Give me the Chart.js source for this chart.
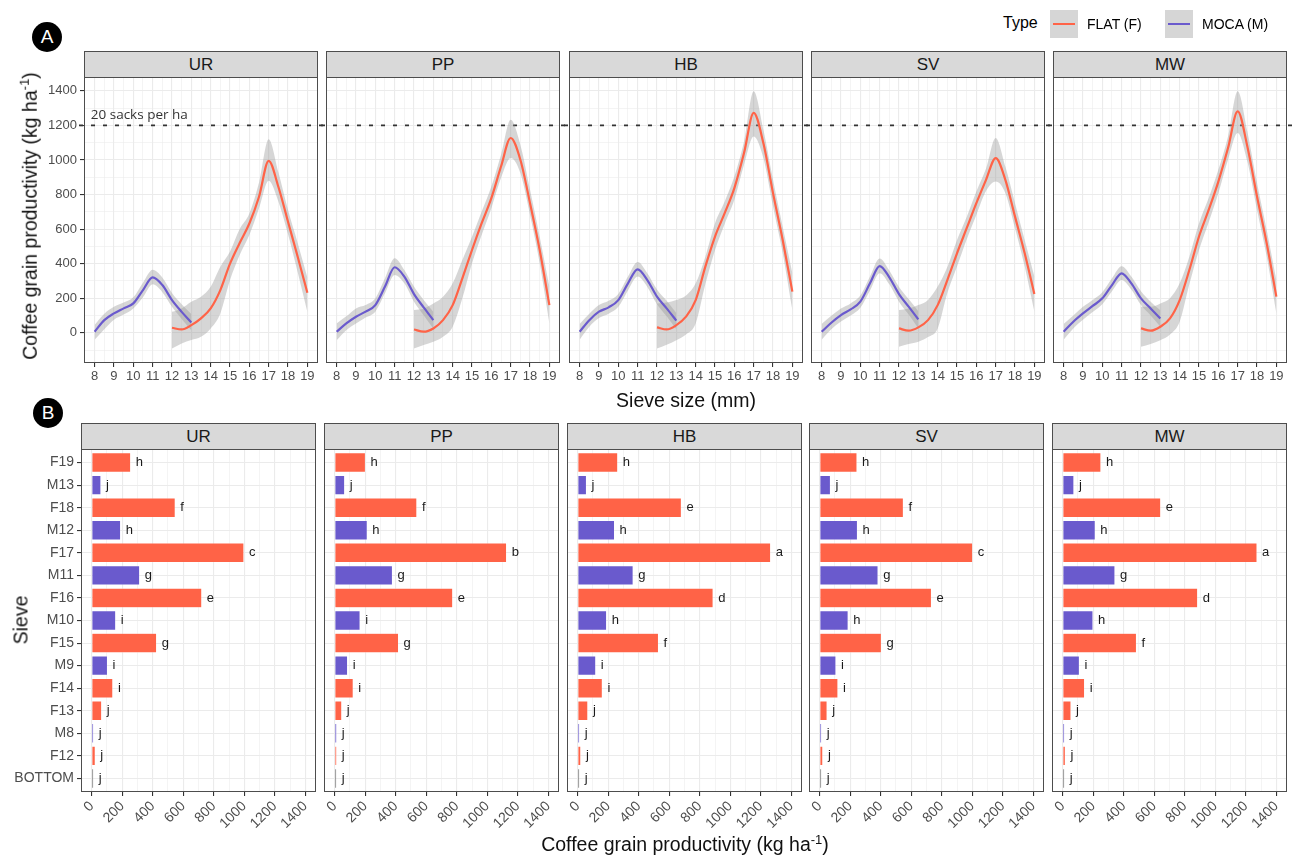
<!DOCTYPE html>
<html>
<head>
<meta charset="utf-8">
<script src="https://cdn.jsdelivr.net/npm/chart.js@4.4.0/dist/chart.umd.min.js"></script>
<style>
  html, body { margin: 0; padding: 0; background: #fff; }
  #fig { position: relative; width: 1292px; height: 856px; overflow: hidden;
         font-family: "Liberation Sans", Arial, sans-serif; }
  canvas { position: absolute; }
  .strip { position: absolute; background: #D9D9D9; border: 1px solid #4D4D4D; box-sizing: border-box;
           text-align: center; color: #1A1A1A; font-size: 17px; line-height: 25px; }
  .tag { position: absolute; width: 30px; height: 30px; border-radius: 50%; background: #000; color: #fff;
         font-size: 19px; line-height: 30px; text-align: center; }
  .ytitle { position: absolute; transform: translate(-50%, -50%) rotate(-90deg); white-space: nowrap;
            font-size: 19.5px; color: #111; }
  .xtitle { position: absolute; transform: translate(-50%, -50%); white-space: nowrap; font-size: 19.5px; color: #111; }
  .leg { position: absolute; white-space: nowrap; color: #000; }
  .key { position: absolute; width: 28px; height: 28px; background: #D6D6D6; }
  .key span { position: absolute; left: 3px; right: 3px; top: 13px; height: 2.4px; }
  sup { font-size: 13px; }
</style>
</head>
<body>
<div id="fig"></div>
<script>
// ---- data -------------------------------------------------------------
const panels = ["UR", "PP", "HB", "SV", "MW"];

// top row: smoothed productivity by sieve size (mm)
const mocaX = [8, 8.5, 9, 9.5, 10, 10.5, 11, 11.5, 12, 12.5, 13];
const flatX = [12, 12.5, 13, 13.5, 14, 14.5, 15, 15.5, 16, 16.5, 17, 17.5, 18, 18.5, 19];

const mocaUR   = [6, 73, 112, 141, 170, 247, 320, 276, 189, 121, 60];
const mocaLoUR = [-40, 20, 75, 105, 140, 205, 280, 235, 150, 80, 15];
const mocaHiUR = [45, 110, 150, 175, 205, 290, 365, 320, 230, 165, 108];
const flatUR   = [29, 19, 44, 83, 141, 247, 400, 520, 632, 787, 995, 845, 642, 440, 231];
const flatLoUR = [-91, -62, -42, -23, 25, 112, 305, 450, 565, 720, 880, 760, 570, 350, 120];
const flatHiUR = [121, 141, 179, 208, 266, 382, 470, 600, 690, 870, 1120, 930, 710, 520, 320];

const mocaPP   = [6, 54, 93, 122, 160, 267, 379, 325, 224, 147, 73];
const mocaLoPP = [-43, 15, 54, 88, 122, 228, 334, 286, 180, 102, 25];
const mocaHiPP = [54, 95, 141, 160, 199, 315, 431, 363, 267, 189, 122];
const flatPP   = [19, 6, 25, 73, 160, 315, 479, 634, 779, 962, 1127, 1001, 750, 479, 160];
const flatLoPP = [-91, -71, -52, -23, 35, 199, 402, 566, 721, 895, 1011, 924, 682, 402, 54];
const flatHiPP = [131, 141, 170, 209, 286, 421, 556, 701, 846, 1030, 1233, 1088, 827, 556, 267];

const mocaHB   = [6, 73, 122, 147, 189, 286, 367, 305, 209, 141, 70];
const mocaLoHB = [-40, 35, 85, 110, 150, 245, 325, 265, 165, 95, 20];
const mocaHiHB = [50, 110, 160, 185, 225, 325, 410, 345, 250, 185, 115];
const flatHB   = [31, 19, 44, 93, 189, 383, 557, 692, 837, 1040, 1272, 1098, 808, 537, 238];
const flatLoHB = [-91, -70, -43, -10, 54, 280, 479, 630, 769, 972, 1136, 1011, 730, 460, 131];
const flatHiHB = [170, 175, 189, 215, 286, 440, 634, 760, 904, 1107, 1397, 1176, 885, 614, 344];

const mocaSV   = [6, 58, 102, 135, 180, 286, 386, 321, 224, 151, 77];
const mocaLoSV = [-40, 20, 65, 100, 145, 245, 345, 280, 180, 105, 25];
const mocaHiSV = [50, 98, 140, 170, 215, 325, 430, 360, 265, 195, 125];
const flatSV   = [25, 12, 31, 73, 160, 305, 460, 605, 750, 885, 1011, 885, 672, 460, 224];
const flatLoSV = [-81, -65, -52, -25, 25, 230, 383, 540, 682, 820, 875, 808, 605, 383, 122];
const flatHiSV = [131, 140, 160, 190, 267, 380, 537, 670, 817, 950, 1127, 962, 750, 537, 325];

const mocaMW   = [6, 64, 112, 155, 199, 276, 344, 286, 199, 141, 83];
const mocaLoMW = [-40, 25, 75, 120, 165, 240, 305, 250, 160, 100, 35];
const mocaHiMW = [50, 100, 150, 190, 235, 315, 385, 325, 240, 180, 130];
const flatMW   = [25, 12, 35, 83, 189, 363, 557, 711, 875, 1069, 1281, 1078, 788, 518, 209];
const flatLoMW = [-81, -65, -43, -10, 64, 280, 479, 640, 808, 1001, 1156, 991, 711, 441, 112];
const flatHiMW = [151, 150, 170, 200, 286, 440, 634, 780, 943, 1136, 1397, 1165, 866, 595, 305];

const yTicksTop = [0, 200, 400, 600, 800, 1000, 1200, 1400];
const sacksLine = 1200;

// bottom row: productivity per sieve, top to bottom
const sieves = ["F19", "M13", "F18", "M12", "F17", "M11", "F16", "M10", "F15", "M9", "F14", "F13", "M8", "F12", "BOTTOM"];

const barUR = [256, 61, 548, 190, 998, 315, 722, 158, 426, 104, 139, 66, 9, 24, 5];
const barPP = [202, 66, 539, 214, 1127, 379, 774, 167, 419, 85, 122, 47, 14, 14, 7];
const barHB = [263, 58, 680, 242, 1265, 364, 888, 190, 530, 119, 162, 67, 12, 21, 3];
const barSV = [245, 71, 549, 248, 1003, 383, 733, 187, 405, 107, 120, 49, 9, 21, 6];
const barMW = [251, 74, 643, 214, 1274, 343, 885, 199, 484, 110, 144, 55, 12, 18, 3];

const letUR = ["h", "j", "f", "h", "c", "g", "e", "i", "g", "i", "i", "j", "j", "j", "j"];
const letPP = ["h", "j", "f", "h", "b", "g", "e", "i", "g", "i", "i", "j", "j", "j", "j"];
const letHB = ["h", "j", "e", "h", "a", "g", "d", "h", "f", "i", "i", "j", "j", "j", "j"];
const letSV = ["h", "j", "f", "h", "c", "g", "e", "h", "g", "i", "i", "j", "j", "j", "j"];
const letMW = ["h", "j", "e", "h", "a", "g", "d", "h", "f", "i", "i", "j", "j", "j", "j"];

// ---- styling ----------------------------------------------------------
const FLAT = "#FF6347";
const MOCA = "#6A5ACD";
const BAND = "rgba(153,153,153,0.4)";
const GRID = "#EBEBEB";

const topSeries = {
    UR: [mocaUR, mocaLoUR, mocaHiUR, flatUR, flatLoUR, flatHiUR],
    PP: [mocaPP, mocaLoPP, mocaHiPP, flatPP, flatLoPP, flatHiPP],
    HB: [mocaHB, mocaLoHB, mocaHiHB, flatHB, flatLoHB, flatHiHB],
    SV: [mocaSV, mocaLoSV, mocaHiSV, flatSV, flatLoSV, flatHiSV],
    MW: [mocaMW, mocaLoMW, mocaHiMW, flatMW, flatLoMW, flatHiMW]
};
const barSeries = { UR: [barUR, letUR], PP: [barPP, letPP], HB: [barHB, letHB], SV: [barSV, letSV], MW: [barMW, letMW] };

const topLefts = [84, 326, 569, 811, 1053];
const botLefts = [81, 324, 567, 809, 1052];
const topW = 234, botW = 235;
const topY = 77, topH = 286;
const botY = 449, botH = 343;

Chart.defaults.font.family = '"Liberation Sans", Arial, sans-serif';
Chart.defaults.color = "#4D4D4D";
Chart.defaults.animation = false;

const fig = document.getElementById("fig");

function addDiv(cls, css, html) {
    const d = document.createElement("div");
    d.className = cls;
    Object.assign(d.style, css);
    d.innerHTML = html;
    fig.appendChild(d);
    return d;
}

function addCanvas(left, top, w, h) {
    const cv = document.createElement("canvas");
    cv.width = w;
    cv.height = h;
    cv.style.left = left + "px";
    cv.style.top = top + "px";
    cv.style.width = w + "px";
    cv.style.height = h + "px";
    fig.appendChild(cv);
    return cv;
}

// fixed axis sizes so every panel lines up
function fixX(h) {
    return sc => { sc.height = h; sc.paddingLeft = 0; sc.paddingRight = 0; sc.paddingTop = 0; sc.paddingBottom = 0; };
}
function fixY(w) {
    return sc => { sc.width = w; sc.paddingLeft = 0; sc.paddingRight = 0; sc.paddingTop = 0; sc.paddingBottom = 0; };
}

// frame, reference line, note and bar letters
const panelDeco = {
    id: "panelDeco",
    beforeDatasetsDraw(chart, args, opts) {
        if (opts.hline == null) return;
        const { ctx, chartArea: a, scales } = chart;
        const py = scales.y.getPixelForValue(opts.hline);
        ctx.save();
        ctx.strokeStyle = "#333";
        ctx.lineWidth = 1.6;
        ctx.setLineDash([4, 8]);
        ctx.beginPath();
        ctx.moveTo(a.left - 5, py);
        ctx.lineTo(a.right + 5, py);
        ctx.stroke();
        if (opts.note) {
            ctx.fillStyle = "#333";
            ctx.font = '13.5px "Open Sans", sans-serif';
            ctx.textAlign = "left";
            ctx.textBaseline = "middle";
            ctx.fillText(opts.note, scales.x.getPixelForValue(7.8), scales.y.getPixelForValue(1262));
        }
        ctx.restore();
    },
    afterDatasetsDraw(chart, args, opts) {
        const { ctx, chartArea: a } = chart;
        ctx.save();
        if (opts.letters) {
            const meta = chart.getDatasetMeta(0);
            ctx.fillStyle = "#1A1A1A";
            ctx.font = '13px "Liberation Sans", Arial, sans-serif';
            ctx.textAlign = "left";
            ctx.textBaseline = "middle";
            meta.data.forEach((el, k) => ctx.fillText(opts.letters[k], el.x + 5, el.y));
        }
        ctx.strokeStyle = "#4D4D4D";
        ctx.lineWidth = 1;
        ctx.strokeRect(Math.round(a.left) + 0.5, Math.round(a.top) + 0.5,
                       Math.round(a.right - a.left) - 1, Math.round(a.bottom - a.top) - 1);
        ctx.restore();
    }
};

const pts = (xs, ys) => xs.map((x, k) => ({ x: x, y: ys[k] }));

function topPanel(i) {
    const key = panels[i];
    const s = topSeries[key];
    const padL = i === 0 ? 50 : 6;
    const W = topW + padL + 6, H = topH + 6 + 26;
    const cv = addCanvas(topLefts[i] - padL, topY - 6, W, H);
    addDiv("strip", { left: topLefts[i] + "px", top: "51px", width: topW + "px", height: "27px" }, key);

    const line = (xs, ys, color) => ({
        data: pts(xs, ys), borderColor: color, borderWidth: 2.2, pointRadius: 0,
        cubicInterpolationMode: "monotone", fill: false
    });
    const band = (xs, ys, fill) => ({
        data: pts(xs, ys), borderWidth: 0, borderColor: "rgba(0,0,0,0)", pointRadius: 0,
        cubicInterpolationMode: "monotone", fill: fill, backgroundColor: BAND
    });

    new Chart(cv, {
        type: "line",
        data: {
            datasets: [
                line(flatX, s[3], FLAT),
                line(mocaX, s[0], MOCA),
                band(mocaX, s[1], false),
                band(mocaX, s[2], "-1"),
                band(flatX, s[4], false),
                band(flatX, s[5], "-1")
            ]
        },
        options: {
            responsive: false,
            layout: { padding: { top: 6, right: 6 } },
            plugins: {
                legend: { display: false },
                tooltip: { enabled: false },
                panelDeco: { hline: sacksLine, note: i === 0 ? "20 sacks per ha" : null }
            },
            scales: {
                x: {
                    type: "linear", min: 7.45, max: 19.55,
                    border: { display: false },
                    ticks: {
                        stepSize: 0.5, includeBounds: false, autoSkip: false, maxRotation: 0,
                        padding: 2, font: { size: 13 }, color: "#4D4D4D",
                        callback: v => Number.isInteger(v) ? String(v) : ""
                    },
                    grid: {
                        color: GRID, tickLength: 4,
                        lineWidth: c => Number.isInteger(c.tick.value) ? 1.1 : 0.55,
                        tickColor: c => Number.isInteger(c.tick.value) ? "#333" : "rgba(0,0,0,0)"
                    },
                    afterFit: fixX(26)
                },
                y: {
                    type: "linear", min: -175, max: 1480,
                    border: { display: false },
                    ticks: {
                        stepSize: 100, includeBounds: false, display: i === 0,
                        padding: 3, font: { size: 13 }, color: "#4D4D4D",
                        callback: v => yTicksTop.includes(v) ? String(v) : ""
                    },
                    grid: {
                        color: GRID, drawTicks: i === 0, tickLength: 4,
                        lineWidth: c => yTicksTop.includes(c.tick.value) ? 1.1 : 0.55,
                        tickColor: c => yTicksTop.includes(c.tick.value) ? "#333" : "rgba(0,0,0,0)"
                    },
                    afterFit: fixY(padL)
                }
            }
        },
        plugins: [panelDeco]
    });
}

function barColor(name) {
    if (name[0] === "F") return FLAT;
    if (name[0] === "M") return MOCA;
    return "#666666";
}

function bottomPanel(i) {
    const key = panels[i];
    const vals = barSeries[key][0];
    const padL = i === 0 ? 81 : 6;
    const W = botW + padL + 6, H = botH + 6 + 52;
    const cv = addCanvas(botLefts[i] - padL, botY - 6, W, H);
    addDiv("strip", { left: botLefts[i] + "px", top: "423px", width: botW + "px", height: "27px" }, key);

    new Chart(cv, {
        type: "bar",
        data: {
            datasets: [{
                data: vals.map((v, k) => ({ x: v, y: k })),
                backgroundColor: sieves.map(barColor),
                borderColor: "rgba(255,255,255,0.45)",
                borderWidth: 0.6,
                minBarLength: 2,
                barPercentage: 0.87,
                categoryPercentage: 1
            }]
        },
        options: {
            responsive: false,
            indexAxis: "y",
            layout: { padding: { top: 6, right: 6 } },
            plugins: {
                legend: { display: false },
                tooltip: { enabled: false },
                panelDeco: { letters: barSeries[key][1] }
            },
            scales: {
                x: {
                    type: "linear", min: -70, max: 1470,
                    border: { display: false },
                    ticks: {
                        stepSize: 100, includeBounds: false, autoSkip: false,
                        minRotation: 45, maxRotation: 45, padding: 2,
                        font: { size: 14 }, color: "#4D4D4D",
                        callback: v => v % 200 === 0 ? String(v) : ""
                    },
                    grid: {
                        color: GRID, tickLength: 4,
                        lineWidth: c => c.tick.value % 200 === 0 ? 1.1 : 0.55,
                        tickColor: c => c.tick.value % 200 === 0 ? "#333" : "rgba(0,0,0,0)"
                    },
                    afterFit: fixX(52)
                },
                y: {
                    type: "linear", min: -0.6, max: 14.6, reverse: true, offset: false,
                    border: { display: false },
                    ticks: {
                        stepSize: 1, includeBounds: false, autoSkip: false, display: i === 0,
                        padding: 3, font: { size: 14 }, color: "#4D4D4D",
                        callback: v => sieves[v] !== undefined ? sieves[v] : ""
                    },
                    grid: { color: GRID, lineWidth: 1.1, offset: false, drawTicks: i === 0, tickLength: 4, tickColor: "#333" },
                    afterFit: fixY(padL)
                }
            }
        },
        plugins: [panelDeco]
    });
}

for (let i = 0; i < panels.length; i++) {
    topPanel(i);
    bottomPanel(i);
}

// titles, tags, legend
addDiv("tag", { left: "32px", top: "22px" }, "A");
addDiv("tag", { left: "33px", top: "398px" }, "B");
addDiv("ytitle", { left: "29px", top: "216px" }, "Coffee grain productivity (kg ha<sup>-1</sup>)");
addDiv("xtitle", { left: "686px", top: "400px" }, "Sieve size (mm)");
addDiv("ytitle", { left: "21px", top: "620px" }, "Sieve");
addDiv("xtitle", { left: "685px", top: "844px" }, "Coffee grain productivity (kg ha<sup>-1</sup>)");

addDiv("leg", { left: "1003px", top: "14px", fontSize: "16px" }, "Type");
addDiv("key", { left: "1050px", top: "10px" }, "<span style='background:" + FLAT + "'></span>");
addDiv("leg", { left: "1087px", top: "16px", fontSize: "14px" }, "FLAT (F)");
addDiv("key", { left: "1165px", top: "10px" }, "<span style='background:" + MOCA + "'></span>");
addDiv("leg", { left: "1202px", top: "16px", fontSize: "14px" }, "MOCA (M)");
</script>
</body>
</html>
